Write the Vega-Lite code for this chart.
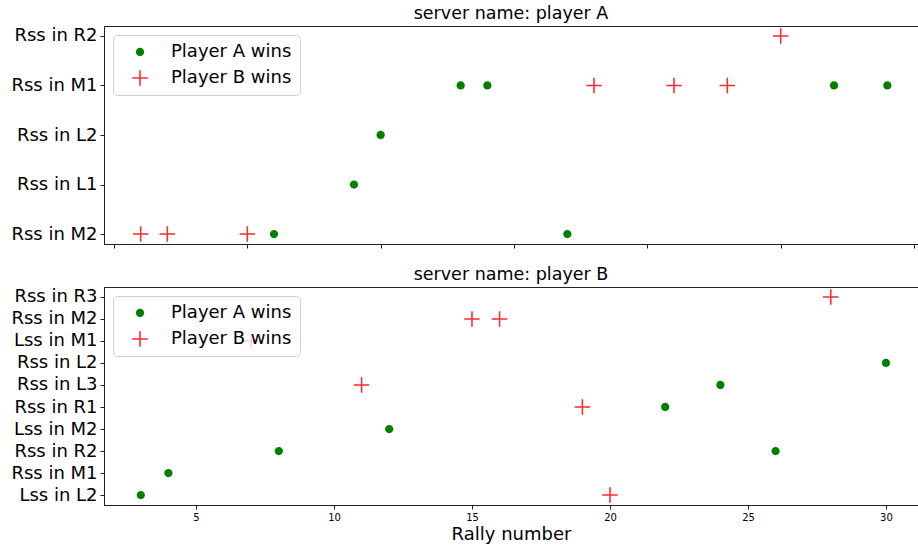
{
  "$schema": "https://vega.github.io/schema/vega-lite/v6.json",
  "padding": {"left": 5, "top": 4, "right": 1, "bottom": 0},
  "background": "white",
  "config": {
    "font": "DejaVu Sans",
    "view": {"stroke": "#222", "strokeWidth": 1},
    "axis": {"grid": false, "domainColor": "#222", "tickColor": "#222", "tickSize": 4, "labelColor": "#000", "titleColor": "#000", "labelFont": "DejaVu Sans", "titleFont": "DejaVu Sans", "titleFontWeight": "normal"},
    "title": {"fontSize": 17.5, "fontWeight": "normal", "font": "DejaVu Sans", "color": "#000", "offset": 4},
    "legend": {"orient": "top-left", "offset": 9, "padding": 8, "fillColor": "rgba(255,255,255,0.8)", "strokeColor": "#d0d0d0", "cornerRadius": 4, "labelFontSize": 18, "labelFont": "DejaVu Sans", "labelColor": "#000", "symbolSize": 240, "rowPadding": 8, "symbolOffset": 10, "labelOffset": 22, "symbolStrokeWidth": 0}
  },
  "datasets": {
    "a": [
      {"rally": 6, "shot": "Rss in M2", "winner": "Player A wins"},
      {"rally": 9, "shot": "Rss in L1", "winner": "Player A wins"},
      {"rally": 10, "shot": "Rss in L2", "winner": "Player A wins"},
      {"rally": 13, "shot": "Rss in M1", "winner": "Player A wins"},
      {"rally": 14, "shot": "Rss in M1", "winner": "Player A wins"},
      {"rally": 17, "shot": "Rss in M2", "winner": "Player A wins"},
      {"rally": 27, "shot": "Rss in M1", "winner": "Player A wins"},
      {"rally": 29, "shot": "Rss in M1", "winner": "Player A wins"},
      {"rally": 1, "shot": "Rss in M2", "winner": "Player B wins"},
      {"rally": 2, "shot": "Rss in M2", "winner": "Player B wins"},
      {"rally": 5, "shot": "Rss in M2", "winner": "Player B wins"},
      {"rally": 18, "shot": "Rss in M1", "winner": "Player B wins"},
      {"rally": 21, "shot": "Rss in M1", "winner": "Player B wins"},
      {"rally": 23, "shot": "Rss in M1", "winner": "Player B wins"},
      {"rally": 25, "shot": "Rss in R2", "winner": "Player B wins"}
    ],
    "b": [
      {"rally": 3, "shot": "Lss in L2", "winner": "Player A wins"},
      {"rally": 4, "shot": "Rss in M1", "winner": "Player A wins"},
      {"rally": 8, "shot": "Rss in R2", "winner": "Player A wins"},
      {"rally": 12, "shot": "Lss in M2", "winner": "Player A wins"},
      {"rally": 22, "shot": "Rss in R1", "winner": "Player A wins"},
      {"rally": 24, "shot": "Rss in L3", "winner": "Player A wins"},
      {"rally": 26, "shot": "Rss in R2", "winner": "Player A wins"},
      {"rally": 30, "shot": "Rss in L2", "winner": "Player A wins"},
      {"rally": 7, "shot": "Lss in M1", "winner": "Player B wins"},
      {"rally": 11, "shot": "Rss in L3", "winner": "Player B wins"},
      {"rally": 15, "shot": "Rss in M2", "winner": "Player B wins"},
      {"rally": 16, "shot": "Rss in M2", "winner": "Player B wins"},
      {"rally": 19, "shot": "Rss in R1", "winner": "Player B wins"},
      {"rally": 20, "shot": "Lss in L2", "winner": "Player B wins"},
      {"rally": 28, "shot": "Rss in R3", "winner": "Player B wins"}
    ]
  },
  "spacing": 16,
  "vconcat": [
    {
      "title": "server name: player A",
      "width": 814,
      "height": 218,
      "data": {"name": "a"},
      "mark": {"type": "point", "filled": true, "opacity": 1, "size": 240, "strokeWidth": 0},
      "encoding": {
        "x": {"field": "rally", "type": "quantitative", "scale": {"domain": [-0.375, 30.15], "nice": false, "zero": false}, "axis": {"values": [0, 5, 10, 15, 20, 25, 30], "labels": false, "title": null}},
        "y": {"field": "shot", "type": "nominal", "sort": null, "scale": {"type": "point", "padding": 0.2, "domain": ["Rss in R2", "Rss in M1", "Rss in L2", "Rss in L1", "Rss in M2"]}, "axis": {"title": null, "labelFontSize": 18, "minExtent": 98, "maxExtent": 98, "labelPadding": 3}},
        "color": {"field": "winner", "type": "nominal", "title": null, "scale": {"domain": ["Player A wins", "Player B wins"], "range": ["#008000", "#ff2a2a"]}},
        "shape": {"field": "winner", "type": "nominal", "title": null, "scale": {"domain": ["Player A wins", "Player B wins"], "range": ["M-0.535,0A0.535,0.535,0,1,0,0.535,0A0.535,0.535,0,1,0,-0.535,0Z", "M-1,-0.1H1V0.1H-1Z M-0.1,-1H0.1V1H-0.1Z"]}}
      }
    },
    {
      "title": "server name: player B",
      "width": 814,
      "height": 218,
      "data": {"name": "b"},
      "mark": {"type": "point", "filled": true, "opacity": 1, "size": 240, "strokeWidth": 0},
      "encoding": {
        "x": {"field": "rally", "type": "quantitative", "scale": {"domain": [1.667, 31.16], "nice": false, "zero": false}, "axis": {"values": [5, 10, 15, 20, 25, 30], "labelFontSize": 10, "labelPadding": 3, "title": "Rally number", "titleFontSize": 18, "titlePadding": 3}},
        "y": {"field": "shot", "type": "nominal", "sort": null, "scale": {"type": "point", "padding": 0.45, "domain": ["Rss in R3", "Rss in M2", "Lss in M1", "Rss in L2", "Rss in L3", "Rss in R1", "Lss in M2", "Rss in R2", "Rss in M1", "Lss in L2"]}, "axis": {"title": null, "labelFontSize": 18, "minExtent": 98, "maxExtent": 98, "labelPadding": 3}},
        "color": {"field": "winner", "type": "nominal", "title": null, "scale": {"domain": ["Player A wins", "Player B wins"], "range": ["#008000", "#ff2a2a"]}},
        "shape": {"field": "winner", "type": "nominal", "title": null, "scale": {"domain": ["Player A wins", "Player B wins"], "range": ["M-0.535,0A0.535,0.535,0,1,0,0.535,0A0.535,0.535,0,1,0,-0.535,0Z", "M-1,-0.1H1V0.1H-1Z M-0.1,-1H0.1V1H-0.1Z"]}}
      }
    }
  ],
  "resolve": {
    "scale": {"x": "independent", "y": "independent", "color": "independent", "shape": "independent"},
    "legend": {"color": "independent", "shape": "independent"}
  }
}
